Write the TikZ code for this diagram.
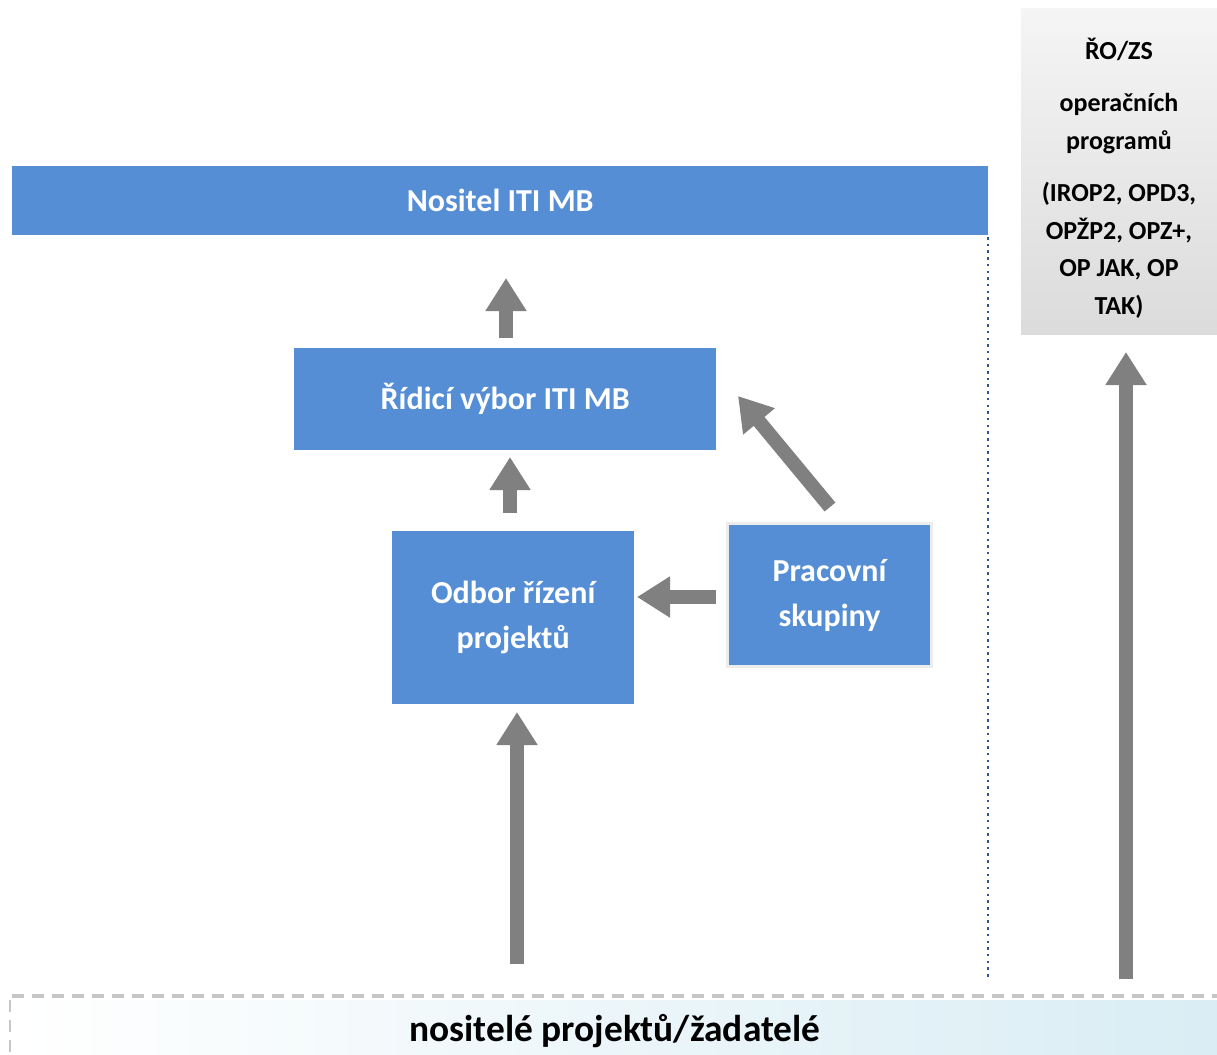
\documentclass[tikz,border=0pt]{standalone}
\usepackage{fontspec}
\setmainfont{Carlito}
\usetikzlibrary{arrows.meta,calc}
\definecolor{boxblue}{HTML}{558ED5}
\definecolor{arrgray}{HTML}{808080}
\definecolor{dotblue}{HTML}{2F5597}
\definecolor{lightblue}{HTML}{D9EDF4}
\begin{document}
\begin{tikzpicture}[x=1pt,y=-1pt,
  bluebox/.style={fill=boxblue, text=white, font=\fontsize{32}{45}\selectfont\bfseries,
    align=center, inner sep=0pt, anchor=north west},
  bigarrow/.style={draw=arrgray, line width=14pt, -{Triangle[width=39pt,length=33pt]}},
]
\useasboundingbox (0,0) rectangle (1217,1054);

% bottom band
\node[anchor=north west, minimum width=1205pt, minimum height=54pt, inner sep=0pt,
  left color=white, right color=lightblue, draw=none] (bot) at (12,1000) {};
\node[font=\fontsize{37.4}{44}\selectfont\bfseries] (bottxt) at (615,1031) {nositelé projektů/žadatelé};
\draw[gray!45, line width=4pt, dash pattern=on 12pt off 8pt] (12,996) -- (1217,996);
\draw[gray!45, line width=2pt, dash pattern=on 12pt off 8pt] (10,1000) -- (10,1054);

% blue boxes
\node[bluebox, minimum width=976pt, minimum height=69pt] (nos) at (12,166) {Nositel ITI MB};
\node[bluebox, minimum width=422pt, minimum height=102pt] (rv) at (294,348) {Řídicí výbor ITI MB};
\node[bluebox, minimum width=242pt, minimum height=173pt] (orp) at (392,531) {Odbor řízení\\projektů};
\node[bluebox, minimum width=204pt, minimum height=143pt, draw=gray!15, line width=3pt] (ps) at (726,522) {Pracovní\\skupiny};

% right grey box
\node[anchor=north west, minimum width=196pt, minimum height=326pt, inner sep=0pt,
  top color=gray!8, bottom color=gray!28] (ro) at (1021,8) {};
\node[font=\fontsize{26}{37.5}\selectfont\bfseries, align=center] (rotxt) at (1119,178)
  {ŘO/ZS\\[15pt]operačních\\programů\\[15pt](IROP2, OPD3,\\OPŽP2, OPZ+,\\OP JAK, OP\\TAK)};

% dotted separator
\coordinate (dtop) at (988,237);
\coordinate (dbot) at (988,980);
\draw[dotblue, line width=2.5pt, dash pattern=on 2.5pt off 4.2pt] (dtop) -- (dbot);

% arrows
\coordinate (a1s) at (506,338);
\coordinate (a1e) at (506,278);
\draw[bigarrow] (a1s) -- (a1e);
\coordinate (a2s) at (510,513);
\coordinate (a2e) at (510,457);
\draw[bigarrow] (a2s) -- (a2e);
\coordinate (a3s) at (716,597);
\coordinate (a3e) at (637,597);
\draw[bigarrow] (a3s) -- (a3e);
\coordinate (a4s) at (830,507);
\coordinate (a4e) at (738,396);
\draw[bigarrow] (a4s) -- (a4e);
\coordinate (a5s) at (517,964);
\coordinate (a5e) at (517,712);
\draw[bigarrow] (a5s) -- (a5e);
\coordinate (a6s) at (1126,979);
\coordinate (a6e) at (1126,352);
\draw[bigarrow] (a6s) -- (a6e);
\end{tikzpicture}
\end{document}
